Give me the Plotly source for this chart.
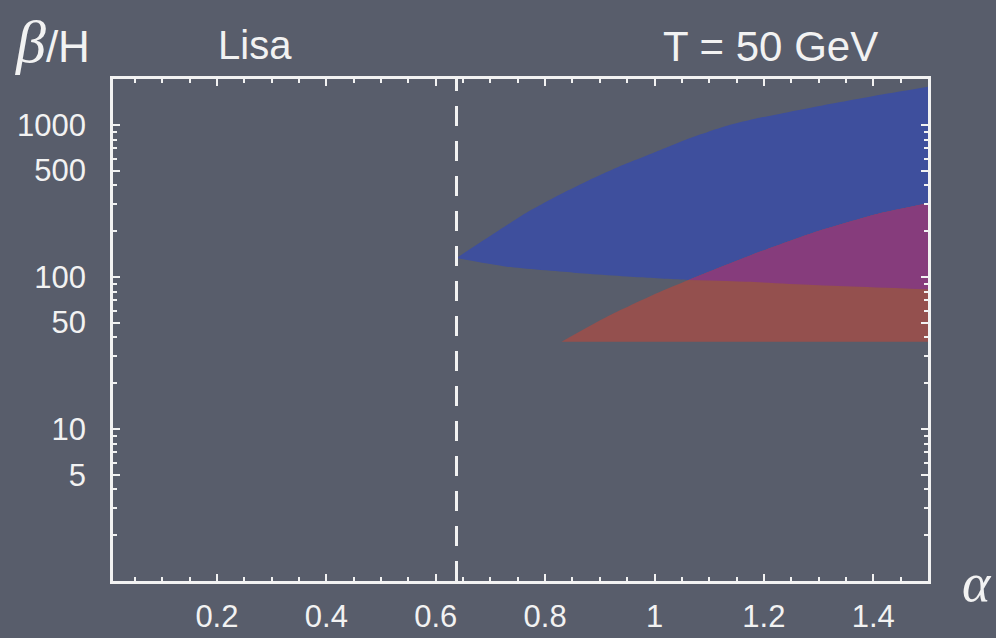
import plotly.graph_objects as go

# LISA reach for T = 50 GeV (alpha vs beta/H)
alpha_lisa = 0.638
alpha_cross = 1.062

alpha_blue_hi = [0.638, 0.698, 0.759, 0.82, 0.881, 0.942, 1.003, 1.064,
                 1.137, 1.186, 1.246, 1.307, 1.368, 1.429, 1.5]
beta_blue_hi = [133, 184, 255, 337, 433, 543, 665, 815,
                996, 1100, 1215, 1340, 1470, 1610, 1780]
alpha_blue_lo = [0.638, 0.73, 0.852, 0.974, 1.062, 1.169, 1.29, 1.5]
beta_blue_lo = [133, 116.6, 106.5, 99.3, 95.3, 92.9, 88.4, 82.8]

alpha_red = [0.83, 0.913, 1.004, 1.062, 1.169, 1.29, 1.412, 1.5]
beta_red_hi = [37.5, 54.7, 78, 95.3, 135.6, 195, 262, 305]
beta_red_lo = [37.5, 37.5, 37.5, 37.5, 37.5, 37.5, 37.5, 37.5]

x_tickvals = [0.2, 0.4, 0.6, 0.8, 1.0, 1.2, 1.4]
x_ticktext = ["0.2", "0.4", "0.6", "0.8", "1", "1.2", "1.4"]
y_tickvals = [5, 10, 50, 100, 500, 1000]
y_ticktext = ["5", "10", "50", "100", "500", "1000"]

x_range = [0.01, 1.5]
y_range = [1, 2000]

BG = "#585d6b"
WHITE = "#f2f2f2"
BLUE = "#3e4f9d"
RED = "#94504e"
MAGENTA = "#863c7c"
FONT = "Liberation Sans"

# minor tick positions
x_minor = [round(0.05 * k, 2) for k in range(1, 30)]
x_minor = [v for v in x_minor if all(abs(v - t) > 1e-6 for t in x_tickvals)]
y_minor = []
for dec in [1, 10, 100, 1000]:
    for d in range(1, 10):
        v = d * dec
        if v <= y_range[1] and v not in y_tickvals:
            y_minor.append(v)

fig = go.Figure()


def add_band(xs_lo, lo, xs_hi, hi, color):
    fig.add_trace(go.Scatter(x=xs_lo, y=lo, mode="lines",
                             line=dict(width=0, shape="spline", smoothing=0.6),
                             hoverinfo="skip"))
    fig.add_trace(go.Scatter(x=xs_hi, y=hi, mode="lines", fill="tonexty",
                             fillcolor=color,
                             line=dict(width=0, shape="spline", smoothing=0.6),
                             hoverinfo="skip"))


add_band(alpha_blue_lo, beta_blue_lo, alpha_blue_hi, beta_blue_hi, BLUE)
add_band(alpha_red, beta_red_lo, alpha_red, beta_red_hi, RED)

# overlap of the two regions: above the blue lower edge, below the red upper edge
ov_x = [a for a in alpha_blue_lo if a >= alpha_cross]
ov_lo = [b for a, b in zip(alpha_blue_lo, beta_blue_lo) if a >= alpha_cross]
ov_xr = [a for a in alpha_red if a >= alpha_cross]
ov_hi = [b for a, b in zip(alpha_red, beta_red_hi) if a >= alpha_cross]
add_band(ov_x, ov_lo, ov_xr, ov_hi, MAGENTA)

# LISA threshold
fig.add_trace(go.Scatter(x=[alpha_lisa, alpha_lisa], y=y_range, mode="lines",
                         line=dict(color=WHITE, width=3, dash="20px,15px"),
                         hoverinfo="skip"))

axis_common = dict(
    showgrid=False, zeroline=False, showline=True, linecolor=WHITE,
    linewidth=2.5, mirror="ticks", ticks="inside", tickcolor=WHITE,
    tickwidth=1.5, ticklen=7, automargin=False,
    tickfont=dict(family=FONT, size=31, color=WHITE),
)

fig.update_xaxes(range=x_range, tickmode="array", tickvals=x_tickvals,
                 ticktext=x_ticktext, ticklabelstandoff=6,
                 minor=dict(tickmode="array", tickvals=x_minor, ticks="inside",
                            ticklen=4, tickwidth=1.5, tickcolor=WHITE),
                 **axis_common)
fig.update_yaxes(type="log", range=[0, 3.30103], tickmode="array",
                 tickvals=y_tickvals, ticktext=y_ticktext, ticklabelstandoff=18,
                 minor=dict(tickmode="array", tickvals=y_minor, ticks="inside",
                            ticklen=4, tickwidth=1.5, tickcolor=WHITE),
                 **axis_common)

L, R, T, B = 113, 68, 79, 57
PW, PH = 996 - L - R, 638 - T - B


def px(x):
    return (x - L) / PW


def py(y):
    return (638 - B - y) / PH


annots = [
    dict(x=px(13), y=py(42), xanchor="left", yanchor="middle",
         text="<span style='font-family:Liberation Serif;font-size:60px'><i>β</i></span>/H",
         font=dict(family=FONT, size=44, color=WHITE)),
    dict(x=px(216), y=py(45), xanchor="left", yanchor="middle", text="Lisa",
         font=dict(family=FONT, size=40, color=WHITE)),
    dict(x=px(661), y=py(46), xanchor="left", yanchor="middle", text="T = 50 GeV",
         font=dict(family=FONT, size=42, color=WHITE)),
    dict(x=px(977), y=py(583), xanchor="center", yanchor="middle", text="<i>α</i>",
         font=dict(family="Liberation Serif", size=54, color=WHITE)),
]
for a in annots:
    fig.add_annotation(xref="paper", yref="paper", showarrow=False, **a)

fig.update_layout(
    width=996, height=638, showlegend=False,
    margin=dict(l=L, r=R, t=T, b=B),
    paper_bgcolor=BG, plot_bgcolor=BG,
)

fig.write_html("out.html")
